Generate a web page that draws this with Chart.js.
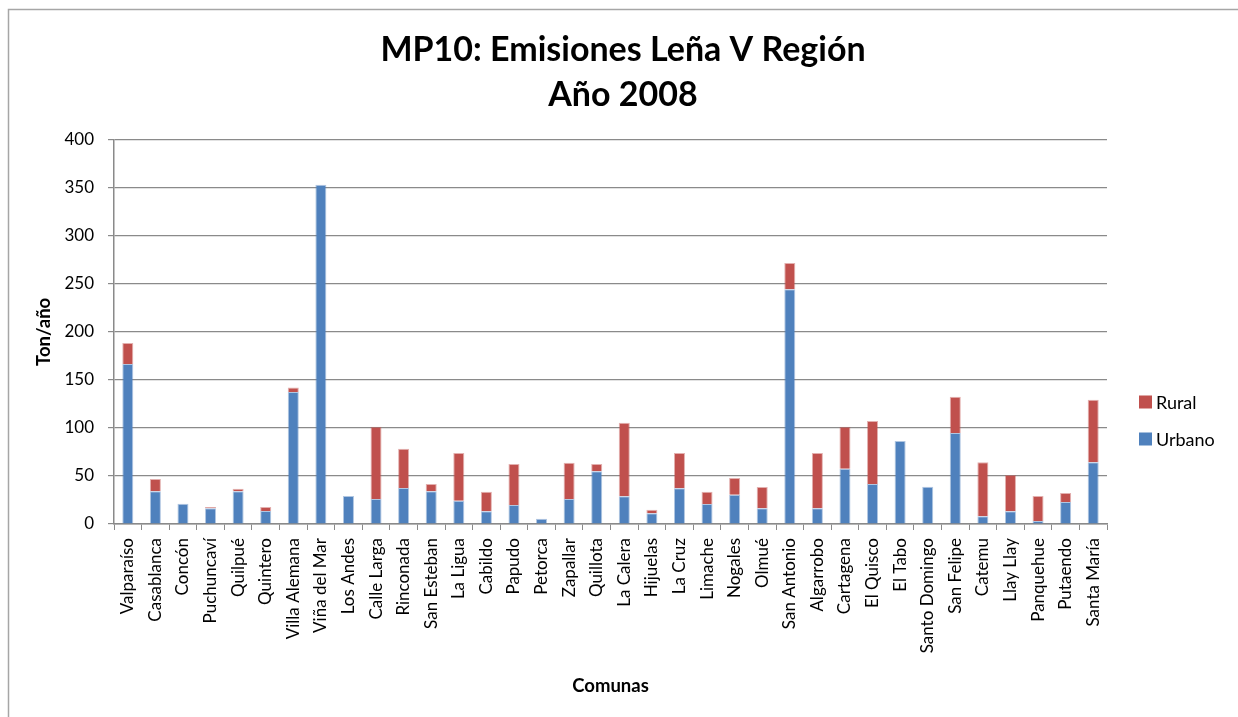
<!DOCTYPE html>
<html lang="es">
<head>
<meta charset="utf-8">
<title>MP10: Emisiones Leña V Región - Año 2008</title>
<script src="https://cdn.jsdelivr.net/npm/chart.js@4/dist/chart.umd.min.js"></script>
<style>
  html, body { margin: 0; padding: 0; background: #ffffff; }
  #wrap { position: relative; width: 1238px; height: 717px; }
</style>
</head>
<body>
<div id="wrap"><canvas id="chart" width="1238" height="717"></canvas></div>
<script>
// Comunas de la V Región
const comunas = [
  'Valparaíso', 'Casablanca', 'Concón', 'Puchuncaví', 'Quilpué', 'Quintero',
  'Villa Alemana', 'Viña del Mar', 'Los Andes', 'Calle Larga', 'Rinconada',
  'San Esteban', 'La Ligua', 'Cabildo', 'Papudo', 'Petorca', 'Zapallar',
  'Quillota', 'La Calera', 'Hijuelas', 'La Cruz', 'Limache', 'Nogales',
  'Olmué', 'San Antonio', 'Algarrobo', 'Cartagena', 'El Quisco', 'El Tabo',
  'Santo Domingo', 'San Felipe', 'Catemu', 'Llay Llay', 'Panquehue',
  'Putaendo', 'Santa María'
];

// Emisiones urbanas (ton/año)
const urbano = [
  166.5, 34.0, 21.2, 16.3, 34.0, 13.5,
  137.4, 353.1, 29.1, 26.0, 37.5,
  34.0, 24.3, 13.2, 19.8, 5.5, 26.0,
  54.8, 28.8, 11.1, 37.1, 20.8, 30.5,
  16.3, 244.5, 16.3, 57.6, 41.6, 86.4,
  38.8, 94.7, 8.0, 13.2, 3.1,
  22.9, 64.2
];

// Emisiones rurales (ton/año)
const rural = [
  21.8, 12.8, 0, 1.4, 2.8, 4.2,
  4.8, 0, 0, 75.3, 40.9,
  7.6, 49.6, 20.4, 42.6, 0, 37.8,
  7.6, 76.6, 3.8, 36.8, 12.8, 17.4,
  22.2, 27.1, 57.6, 43.7, 65.6, 0,
  0, 37.8, 56.2, 37.8, 26.0,
  9.4, 65.2
];

const yTicks = [0, 50, 100, 150, 200, 250, 300, 350, 400];

const FONT = 'Lato, "Open Sans", "DejaVu Sans", sans-serif';
const AXIS_GREY = '#8a8a8a';

// Outer frame of the chart object (left and top edges)
const framePlugin = {
  id: 'frame',
  beforeDraw(chart) {
    const ctx = chart.ctx;
    ctx.save();
    ctx.strokeStyle = '#a6a6a6';
    ctx.lineWidth = 1.5;
    ctx.beginPath();
    ctx.moveTo(8.5, chart.height);
    ctx.lineTo(8.5, 9.5);
    ctx.lineTo(chart.width, 9.5);
    ctx.stroke();
    ctx.restore();
  }
};

// Legend to the right of the plot, series listed top (Rural) to bottom (Urbano)
const sideLegend = {
  id: 'sideLegend',
  afterDraw(chart) {
    const ctx = chart.ctx;
    const sets = chart.data.datasets.slice().reverse();
    const x = 1139, y0 = 402, step = 37, box = 13;
    ctx.save();
    ctx.font = '18px ' + FONT;
    ctx.textBaseline = 'middle';
    ctx.textAlign = 'left';
    sets.forEach((ds, i) => {
      const y = y0 + i * step;
      ctx.fillStyle = ds.backgroundColor;
      ctx.fillRect(x, y - box / 2, box, box);
      ctx.fillStyle = '#000';
      ctx.fillText(ds.label, x + box + 4, y + 1);
    });
    ctx.restore();
  }
};

new Chart(document.getElementById('chart'), {
  type: 'bar',
  data: {
    labels: comunas,
    datasets: [
      {
        label: 'Urbano',
        data: urbano,
        backgroundColor: '#4F81BD',
        borderColor: 'rgba(79,129,189,0.45)',
        borderWidth: 1,
        borderSkipped: 'bottom'
      },
      {
        label: 'Rural',
        data: rural,
        backgroundColor: '#C0504D',
        borderColor: 'rgba(192,80,77,0.45)',
        borderWidth: 1,
        borderSkipped: 'bottom'
      }
    ]
  },
  plugins: [framePlugin, sideLegend],
  options: {
    responsive: false,
    animation: false,
    devicePixelRatio: 1,
    layout: { padding: { left: 8, right: 0, top: 0, bottom: 0 } },
    datasets: { bar: { categoryPercentage: 1.0, barPercentage: 0.4 } },
    plugins: {
      legend: { display: false },
      tooltip: { enabled: false },
      title: {
        display: true,
        text: ['MP10: Emisiones Leña V Región', 'Año 2008'],
        color: '#000',
        font: { family: FONT, size: 34, weight: 'bold', lineHeight: 1.32 },
        padding: { top: 28, bottom: 22 }
      }
    },
    scales: {
      x: {
        stacked: true,
        offset: true,
        grid: {
          offset: true,
          drawOnChartArea: false,
          drawTicks: true,
          tickLength: 6,
          color: AXIS_GREY,
          lineWidth: 1
        },
        border: { display: true, color: AXIS_GREY, width: 1.5 },
        ticks: {
          autoSkip: false,
          minRotation: 90,
          maxRotation: 90,
          padding: 8,
          color: '#000',
          font: { family: FONT, size: 17 }
        },
        title: {
          display: true,
          text: 'Comunas',
          color: '#000',
          font: { family: FONT, size: 18.5, weight: 'bold' },
          padding: { top: 4, bottom: 20 }
        },
        afterFit(scale) { scale.height = 193; }
      },
      y: {
        stacked: true,
        min: 0,
        max: 400,
        afterBuildTicks(scale) { scale.ticks = yTicks.map(v => ({ value: v })); },
        grid: {
          color: AXIS_GREY,
          lineWidth: 1.2,
          drawTicks: true,
          tickLength: 6
        },
        border: { display: true, color: AXIS_GREY, width: 1.5 },
        ticks: {
          padding: 14,
          color: '#000',
          font: { family: FONT, size: 17 }
        },
        title: {
          display: true,
          text: 'Ton/año',
          color: '#000',
          font: { family: FONT, size: 18.5, weight: 'bold' },
          padding: { top: 25, bottom: 0 }
        },
        afterFit(scale) { scale.width = 106; }
      },
      yRight: {
        position: 'right',
        display: true,
        grid: { display: false },
        border: { display: false },
        ticks: { display: false },
        afterFit(scale) { scale.width = 131; }
      }
    }
  }
});
</script>
</body>
</html>
